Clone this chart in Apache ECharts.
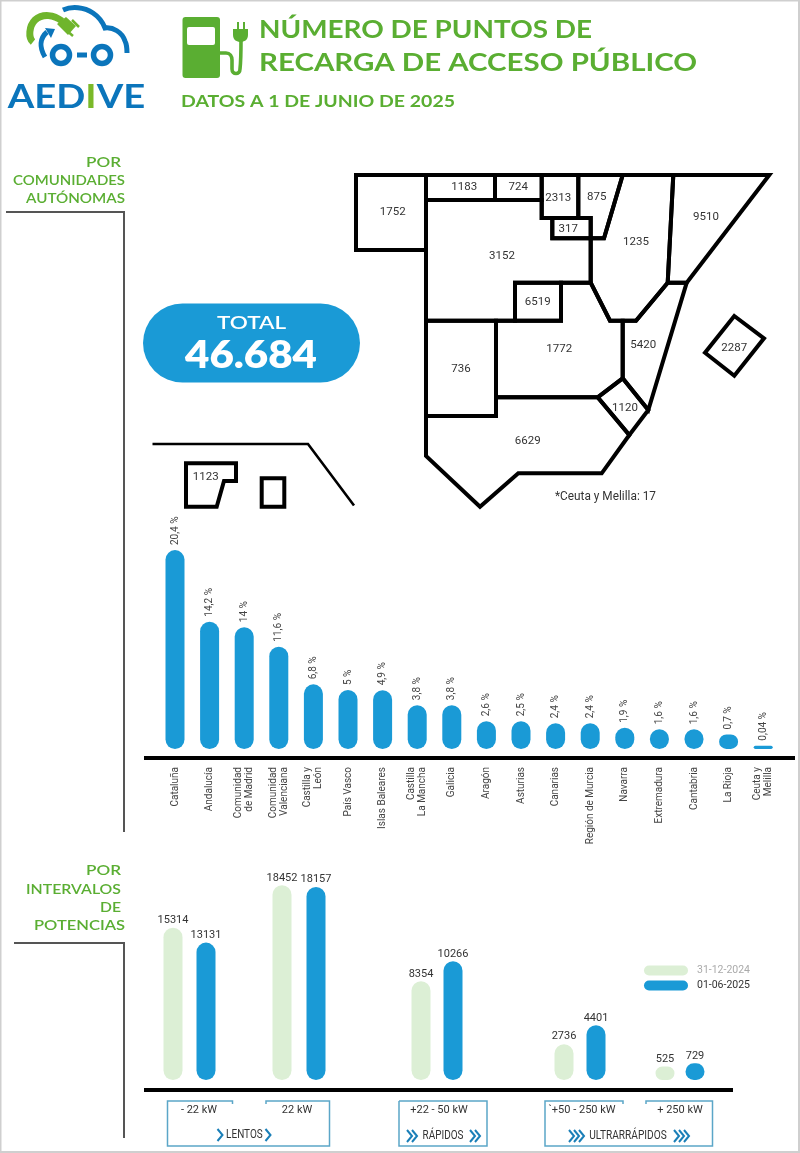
<!DOCTYPE html>
<html><head><meta charset="utf-8">
<style>html,body{margin:0;padding:0;background:#fff}#c{width:800px;height:1153px}</style>
<script src="https://cdn.jsdelivr.net/npm/echarts@6/dist/echarts.min.js"></script>
</head><body><div id="c"></div>
<script>
// ---------- DATA ----------
const regionNames = ['Cataluña','Andalucía','Comunidad de Madrid','Comunidad Valenciana','Castilla y León','País Vasco','Islas Baleares','Castilla La Mancha','Galicia','Aragón','Asturias','Canarias','Región de Murcia','Navarra','Extremadura','Cantabria','La Rioja'];
const regionPoints = [9510,6629,6519,5420,3152,2313,2287,1772,1752,1235,1183,1123,1120,875,736,724,317];
const shareCategories = ['Cataluña','Andalucía','Comunidad\nde Madrid','Comunidad\nValenciana','Castilla y\nLeón','País Vasco','Islas Baleares','Castilla\nLa Mancha','Galicia','Aragón','Asturias','Canarias','Región de Murcia','Navarra','Extremadura','Cantabria','La Rioja','Ceuta y\nMelilla'];
const shareLabels = ['20,4 %','14,2 %','14 %','11,6 %','6,8 %','5 %','4,9 %','3,8 %','3,8 %','2,6 %','2,5 %','2,4 %','2,4 %','1,9 %','1,6 %','1,6 %','0,7 %','0,04 %'];
// bar lengths as drawn in the infographic (not strictly proportional to the printed labels)
const shareBars = [20.4,13.06,12.5,10.5,6.63,6.05,6.02,4.5,4.5,2.84,2.84,2.64,2.64,2.18,2.02,2.02,1.5,0.34];
const powerCategories = ['- 22 kW','22 kW','+22 - 50 kW','`+50 - 250 kW','+ 250 kW'];
const points2024 = [15314,18452,8354,2736,525];
const points2025 = [13131,18157,10266,4401,729];
// bar lengths as drawn (same remark)
const bars2024 = [14436,18455,9355,3393,1270];
const bars2025 = [13024,18294,11251,5185,1583];
const seriesNames = ['31-12-2024','01-06-2025'];
const totalLabel = '46.684';
const footnote = '*Ceuta y Melilla: 17';

// ---------- SCHEMATIC MAP GEOMETRY ----------
const mapShapes = {
 'Galicia':[[[356,175],[426,175],[426,250],[356,250]]],
 'Asturias':[[[426,175],[495,175],[495,200],[426,200]]],
 'Cantabria':[[[495,175],[541.7,175],[541.7,200],[495,200]]],
 'País Vasco':[[[541.7,175],[578.3,175],[578.3,218],[541.7,218]]],
 'Navarra':[[[578.3,175],[622.7,175],[604,238.3],[590.7,238.3],[590.7,218],[578.3,218]]],
 'La Rioja':[[[552.3,218],[590.7,218],[590.7,238.3],[552.3,238.3]]],
 'Aragón':[[[622.7,175],[673.3,175],[667.7,282.7],[636,320.7],[610,320.7],[590.7,282.7],[590.7,238.3],[604,238.3]]],
 'Cataluña':[[[673.3,175],[769.3,175],[686.7,282.7],[667.7,282.7]]],
 'Castilla y León':[[[426,200],[541.7,200],[541.7,218],[552.3,218],[552.3,238.3],[590.7,238.3],[590.7,282.7],[515,282.7],[515,320.7],[426,320.7]]],
 'Comunidad de Madrid':[[[515,282.7],[561,282.7],[561,320.7],[515,320.7]]],
 'Castilla La Mancha':[[[561,282.7],[590.7,282.7],[610,320.7],[622.7,320.7],[622.7,378.3],[597.7,397.3],[496,397.3],[496,320.7],[561,320.7]]],
 'Extremadura':[[[426,320.7],[496,320.7],[496,416],[426,416]]],
 'Comunidad Valenciana':[[[622.7,320.7],[636,320.7],[667.7,282.7],[686.7,282.7],[648.3,410],[622.7,378.3]]],
 'Región de Murcia':[[[622.7,378.3],[648.3,410],[629.3,435],[597.7,397.3]]],
 'Andalucía':[[[426,416],[496,416],[496,397.3],[597.7,397.3],[629.3,435],[601.7,473.3],[518.3,473.3],[480,506.7],[426,456]]],
 'Islas Baleares':[[[734.3,316],[764,338.3],[734.3,375.7],[705,352.7]]],
 'Canarias':[[[186,463.3],[236,463.3],[236,481],[224,481],[216.7,506.7],[186,506.7]],[[261.7,478.3],[284.3,478.3],[284.3,506.7],[261.7,506.7]]]
};
const mapLabelAt = {'Galicia':[392.7,211.7],'Asturias':[464.3,187.3],'Cantabria':[518.3,187.3],'País Vasco':[558.3,198.3],'Navarra':[596.7,197.3],'La Rioja':[568.3,229.3],'Aragón':[636,241.7],'Cataluña':[706,216.7],'Castilla y León':[502,255.7],'Comunidad de Madrid':[537.7,301.7],'Castilla La Mancha':[559.3,349.3],'Extremadura':[461,369],'Comunidad Valenciana':[643.3,345],'Región de Murcia':[625,407.7],'Andalucía':[527.7,440.7],'Islas Baleares':[734.3,347.7],'Canarias':[205.7,476.7]};
const flip = p => [p[0], -p[1]];
echarts.registerMap('espana', {type:'FeatureCollection', features: Object.keys(mapShapes).map(n => ({
  type:'Feature',
  properties:{name:n, cp:flip(mapLabelAt[n])},
  geometry:{type:'MultiPolygon', coordinates: mapShapes[n].map(r => [r.map(flip)])}
}))});

// ---------- STYLE ----------
const GREEN='#5aae32', BLUE='#1a9ad6', PALE='#dcefd5', LINE='#555', DARK='#333', LOGO='#0b75bb', LIME='#6fb52c';
const measure = document.createElement('canvas').getContext('2d');
function fitText(text, font, target, x, y, fill, align){
  measure.font = font;
  const w = measure.measureText(text).width;
  return {type:'text', x, y, scaleX: target/w, scaleY:1, z:10, silent:true,
          style:{text, font, fill, align: align||'left', verticalAlign:'middle'}};
}
function line(points, stroke, lineWidth, extra){
  return {type:'polyline', silent:true, z:8, shape:{points}, style:Object.assign({stroke, lineWidth, fill:'none', lineCap:'butt', lineJoin:'miter'}, extra||{})};
}
let shapeCount = 0;
function pathEl(pathData, style){
  const name = 'deco' + (shapeCount++);
  echarts.graphic.registerShape(name, echarts.graphic.extendPath(pathData, {}));
  return {type:name, silent:true, z:8, style};
}
function chevrons(x, y, n){
  const out=[];
  for(let i=0;i<n;i++){ const cx=x+i*5; out.push(line([[cx-2.5,y-6],[cx+2.5,y],[cx-2.5,y+6]],'#1a7fb8',2)); }
  return out;
}
const TITLE='700 24px Lato, sans-serif', SIDE='600 13px Lato, sans-serif', SMALL='12px Roboto, sans-serif';
const graphics = [
  {type:'rect', silent:true, z:1, shape:{x:0.5,y:0.5,width:798.5,height:1151.5}, style:{fill:'none',stroke:'#cfcfcf',lineWidth:2}},
  // logo
  pathEl('M63 10C72 6 84 7 93 13C99 17 103 23 105 28C113 27 122 32 125 41C127 45 127 49 127 53', {fill:'none',stroke:LOGO,lineWidth:5}),
  pathEl('M45 57C39 47 40 38 47 32', {fill:'none',stroke:LOGO,lineWidth:5}),
  pathEl('M45 28L55 29L51 38Z', {fill:LOGO}),
  {type:'circle',silent:true,z:8,shape:{cx:61,cy:55,r:8.5},style:{fill:'none',stroke:LOGO,lineWidth:5.5}},
  {type:'circle',silent:true,z:8,shape:{cx:102,cy:55,r:8.5},style:{fill:'none',stroke:LOGO,lineWidth:5.5}},
  {type:'rect',silent:true,z:8,shape:{x:77,y:52.5,width:10,height:5},style:{fill:LOGO}},
  pathEl('M33 42C28 38 29 26 35 20C43 13 54 15 62 21', {fill:'none',stroke:LIME,lineWidth:7}),
  pathEl('M57 24L66 17L76 26L68 35Z', {fill:LIME}),
  line([[72,20],[79,27]],LIME,2.5), line([[66,30],[73,36]],LIME,2.5),
  {type:'text',silent:true,z:10,x:76.5,y:97,scaleX:1.157,style:{align:'center',verticalAlign:'middle',rich:{a:{font:'700 33px Lato, sans-serif',fill:LOGO},b:{font:'700 33px Lato, sans-serif',fill:'#7ab929'}},text:'{a|AED}{b|I}{a|VE}'}},
  // pump icon
  {type:'rect',silent:true,z:8,shape:{x:182.5,y:17,width:37.5,height:61,r:3},style:{fill:GREEN}},
  {type:'rect',silent:true,z:9,shape:{x:187,y:27,width:28,height:18,r:2},style:{fill:'#fff'}},
  pathEl('M220 53H226C230 53 232 56 232 60V69C232 75 240 75 240 69C241 60 241 50 241 40', {fill:'none',stroke:GREEN,lineWidth:3.6}),
  pathEl('M233 29H248V35C248 40 244 42 240.5 42C237 42 233 40 233 35Z', {fill:GREEN}),
  line([[238,22],[238,29]],GREEN,2), line([[244,22],[244,29]],GREEN,2),
  // titles
  fitText('NÚMERO DE PUNTOS DE', TITLE, 333, 259, 30, GREEN),
  fitText('RECARGA DE ACCESO PÚBLICO', TITLE, 438, 259, 63, GREEN),
  fitText('DATOS A 1 DE JUNIO DE 2025', '700 17px Lato, sans-serif', 274, 181, 102, GREEN),
  // side headers
  fitText('POR', SIDE, 35, 121, 163, GREEN, 'right'),
  fitText('COMUNIDADES', SIDE, 112, 125, 181, GREEN, 'right'),
  fitText('AUTÓNOMAS', SIDE, 99, 125, 199, GREEN, 'right'),
  line([[6,212],[124,212],[124,832]], LINE, 2),
  fitText('POR', SIDE, 35, 121, 871, GREEN, 'right'),
  fitText('INTERVALOS', SIDE, 95, 121, 890, GREEN, 'right'),
  fitText('DE', SIDE, 21, 121, 908, GREEN, 'right'),
  fitText('POTENCIAS', SIDE, 91, 125, 926, GREEN, 'right'),
  line([[14,943],[124,943],[124,1138]], LINE, 2),
  // total pill
  {type:'rect',silent:true,z:8,shape:{x:143,y:303.5,width:217,height:79,r:39.5},style:{fill:BLUE}},
  fitText('TOTAL','600 18px Lato, sans-serif',69,251.5,323.5,'#fff','center'),
  fitText(totalLabel,'800 38px Lato, sans-serif',132,251,356,'#fff','center'),
  // canaries box
  line([[152.5,444],[308,444],[354,505.5]],'#000',2.6),
  // footnote
  fitText(footnote, SMALL, 101, 555, 497, DARK),
  // baselines
  line([[144,758],[795,758]],'#000',4),
  line([[144,1090],[733,1090]],'#000',4),
  // bottom boxes
  line([[232.5,1104],[232.5,1101],[167.5,1101],[167.5,1146],[329.5,1146],[329.5,1101],[266,1101],[266,1104]],'#5ba6c8',1.5),
  line([[399,1101],[487,1101],[487,1146],[399,1146],[399,1101]],'#5ba6c8',1.5),
  line([[623,1104],[623,1101],[545,1101],[545,1146],[712.5,1146],[712.5,1101],[646,1101],[646,1104]],'#5ba6c8',1.5),
  fitText('LENTOS', SMALL, 36.6, 244.4, 1135, DARK, 'center'),
  fitText('RÁPIDOS', SMALL, 40.8, 443, 1136, DARK, 'center'),
  fitText('ULTRARRÁPIDOS', SMALL, 77.4, 628, 1136, DARK, 'center'),
  ...chevrons(220,1135,1), ...chevrons(268,1135,1),
  ...chevrons(409.5,1136,2), ...chevrons(472.5,1136,2),
  ...chevrons(571.5,1136,3), ...chevrons(676.5,1136,3)
];

// ---------- CHART OPTION ----------
const grids=[{left:157.7,top:540,width:622.8,height:218}];
const xAxes=[{type:'category',gridIndex:0,data:shareCategories,
  axisLine:{show:false},axisTick:{show:false},
  axisLabel:{rotate:90,align:'right',verticalAlign:'middle',margin:9,interval:0,fontFamily:'Roboto',fontSize:10,color:'#444',lineHeight:11}}];
const yAxes=[{type:'value',gridIndex:0,show:false,min:-0.923,max:21.436,splitLine:{show:false}}];
const series=[
 {type:'map',map:'espana',name:'Puntos de recarga',silent:true,left:0,top:0,width:800,height:1153,aspectScale:1,
  boundingCoords:[[0,0],[800,-1153]],roam:false,showLegendSymbol:false,
  itemStyle:{areaColor:'transparent',borderColor:'#000',borderWidth:4},
  label:{show:true,formatter:'{c}',fontFamily:'Roboto',fontSize:11.5,color:DARK},
  emphasis:{disabled:true},select:{disabled:true},
  data:regionNames.map((n,i)=>({name:n,value:regionPoints[i]}))},
 {type:'bar',name:'Cuota',xAxisIndex:0,yAxisIndex:0,barWidth:19,data:shareBars,
  itemStyle:{color:BLUE,borderRadius:9.5},
  label:{show:true,position:'top',distance:5,rotate:90,align:'left',verticalAlign:'middle',fontFamily:'Roboto',fontSize:10,color:'#444',
         formatter:p=>shareLabels[p.dataIndex]}}
];
const groupCenters=[189.5,299,437,580,680];
const groupGaps=[14,15,13,13,11];
const labelShift=[9.5,-2,2,2,0];
powerCategories.forEach((c,i)=>{
  const idx=i+1, w=100;
  grids.push({left:groupCenters[i]-w/2,top:870,width:w,height:220});
  const s=labelShift[i];
  xAxes.push({type:'category',gridIndex:idx,data:[c],axisLine:{show:false},axisTick:{show:false},
    axisLabel:{margin:15,interval:0,fontFamily:'Roboto',fontSize:11,color:DARK,padding:s>0?[0,0,0,2*s]:[0,-2*s,0,0]}});
  yAxes.push({type:'value',gridIndex:idx,show:false,min:-948,max:19905,splitLine:{show:false}});
  [[bars2024,points2024,PALE],[bars2025,points2025,BLUE]].forEach((d,k)=>{
    series.push({type:'bar',name:seriesNames[k],xAxisIndex:idx,yAxisIndex:idx,barWidth:19,barGap:(groupGaps[i]/19*100)+'%',
      data:[d[0][i]],itemStyle:{color:d[2],borderRadius:9.5},
      label:{show:true,position:'top',distance:2,fontFamily:'Roboto',fontSize:11,color:DARK,formatter:()=>String(d[1][i])}});
  });
});
const chart=echarts.init(document.getElementById('c'),null,{renderer:'canvas'});
chart.setOption({
  animation:false,backgroundColor:'#fff',
  grid:grids,xAxis:xAxes,yAxis:yAxes,series,
  legend:{left:639,top:960,orient:'vertical',itemGap:4,itemWidth:44,itemHeight:10,selectedMode:false,
    icon:'path://M5 0H39A5 5 0 0 1 39 10H5A5 5 0 0 1 5 0Z',
    textStyle:{fontFamily:'Roboto',fontSize:10.5,color:DARK,padding:[0,0,0,4]},
    data:[{name:seriesNames[0],textStyle:{color:'#aaa',fontFamily:'Roboto',fontSize:10.5,padding:[0,0,0,4]}},{name:seriesNames[1]}]},
  graphic:{elements:graphics}
});
</script></body></html>
